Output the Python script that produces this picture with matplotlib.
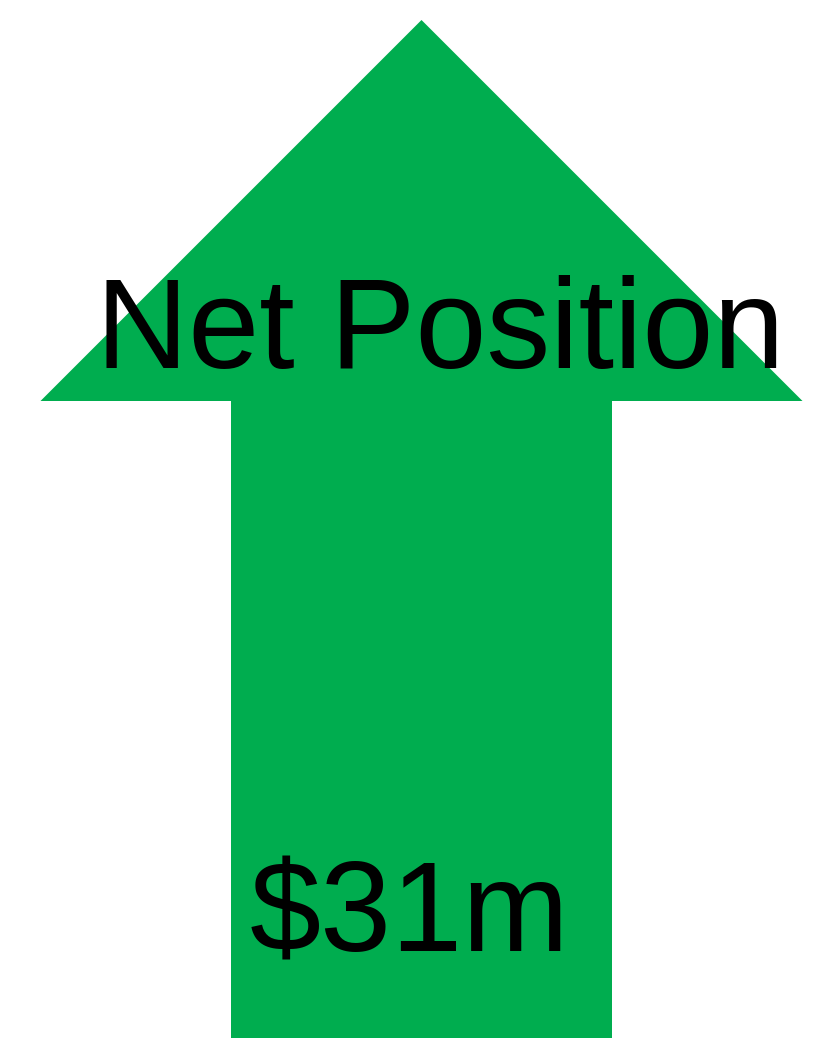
import matplotlib
matplotlib.use("Agg")
import matplotlib.pyplot as plt
from matplotlib.patches import FancyArrow

label = "Net Position"
value_m = 31
value_text = f"${value_m}m"

W, H = 820, 1038
fig = plt.figure(figsize=(W / 100, H / 100), dpi=100)
ax = fig.add_axes([0, 0, 1, 1])
ax.set_xlim(0, W)
ax.set_ylim(H, 0)
ax.axis("off")

green = "#00AD4F"
arrow = FancyArrow(421.5, 1038, 0, -(1038 - 20), width=381, head_width=762,
                   head_length=381, length_includes_head=True,
                   facecolor=green, edgecolor="none")
ax.add_patch(arrow)

ax.text(440, 335, label, fontsize=92, family="Liberation Sans",
        ha="center", va="center", color="black")
ax.text(409, 918, value_text, fontsize=92, family="Liberation Sans",
        ha="center", va="center", color="black")

fig.savefig("out.png", dpi=100)
